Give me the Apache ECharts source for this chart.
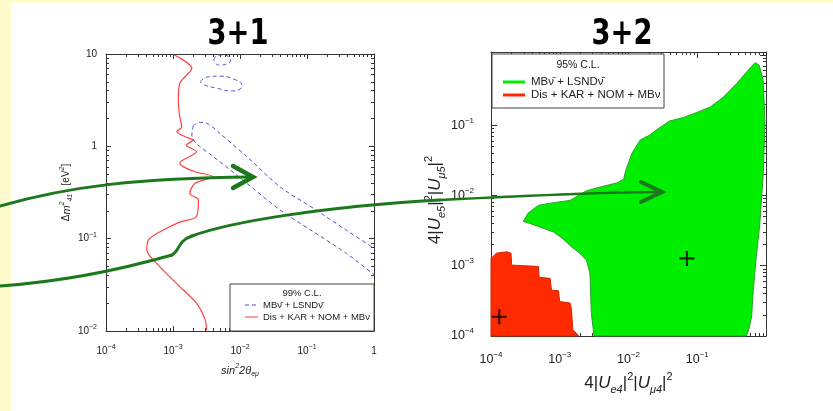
<!DOCTYPE html>
<html><head><meta charset="utf-8">
<script src="https://cdn.jsdelivr.net/npm/echarts@6/dist/echarts.min.js"></script>
<style>
html,body{margin:0;padding:0;background:#fefccf;width:833px;height:411px;overflow:hidden;}
#paper{position:absolute;left:11px;top:3px;width:822px;height:408px;background:#fff;}
#chart{position:absolute;left:0;top:0;width:833px;height:411px;}
</style></head><body><div id="paper"></div><div id="chart"></div>
<script>
// ================= DATA =================
// Left panel (3+1): x = sin^2 2theta_emu, y = dm^2_41 [eV^2]
const leftXTicks = [1e-4, 1e-3, 1e-2, 1e-1, 1];
const leftYTicks = [1e-2, 1e-1, 1, 10];
const leftXRange = [1e-4, 1];
const leftYRange = [1e-2, 10];

// Dis + KAR + NOM + MBnu (99% CL exclusion curve)
const redCurveX = [1.05e-3, 1.91e-3, 1.26e-3, 1.20e-3, 1.26e-3, 1.35e-3, 1.14e-3, 1.51e-3, 2.00e-3, 1.58e-3,
  2.24e-3, 1.26e-3, 1.41e-3, 2.14e-3, 3.98e-3, 2.14e-3, 1.78e-3, 2.40e-3, 2.24e-3, 1.26e-3,
  7.16e-4, 4.27e-4, 4.07e-4, 5.75e-4, 1.26e-3, 2.24e-3, 3.02e-3, 3.16e-3];
const redCurveY = [9.77, 7.00, 4.79, 3.16, 2.09, 1.62, 1.45, 1.27, 1.17, 1.03,
  0.871, 0.661, 0.603, 0.531, 0.468, 0.398, 0.309, 0.263, 0.174, 0.151,
  0.124, 0.0966, 0.0759, 0.0537, 0.0302, 0.0200, 0.0132, 0.0102];

// MBnubar + LSNDnubar (99% CL allowed islands)
const blueIsland1X = [4.07e-3, 4.47e-3, 5.62e-3, 6.92e-3, 7.24e-3, 6.31e-3, 5.01e-3, 4.27e-3, 4.07e-3];
const blueIsland1Y = [8.61, 9.55, 9.77, 9.20, 8.47, 7.80, 7.59, 7.94, 8.61];
const blueIsland2X = [2.57e-3, 3.16e-3, 5.01e-3, 7.94e-3, 1.07e-2, 1.00e-2, 7.59e-3, 4.47e-3, 2.82e-3, 2.57e-3];
const blueIsland2Y = [5.01, 5.62, 5.75, 5.37, 4.57, 4.17, 3.98, 4.27, 4.68, 5.01];
const blueBandX = [2.00e-3, 2.45e-3, 3.39e-3, 5.01e-3, 1.26e-2, 3.98e-2, 0.124, 0.389, 1.01, 1.55,
  1.55, 1.01, 0.389, 0.124, 3.98e-2, 1.26e-2, 3.98e-3, 2.24e-3, 1.91e-3, 2.00e-3];
const blueBandY = [1.66, 1.82, 1.74, 1.38, 0.776, 0.363, 0.214, 0.123, 0.0785, 0.0646,
  0.0331, 0.0407, 0.0692, 0.119, 0.204, 0.398, 0.776, 1.07, 1.32, 1.66];

// Right panel (3+2): x = 4|Ue4|^2|Umu4|^2, y = 4|Ue5|^2|Umu5|^2
const rightXTicks = [1e-4, 1e-3, 1e-2, 1e-1];
const rightYTicks = [1e-4, 1e-3, 1e-2, 1e-1];
const rightXRange = [1e-4, 1];
const rightYRange = [1e-4, 1.1];

// MBnubar + LSNDnubar (95% CL allowed region)
const greenRegionX = [3.16e-3, 2.88e-3, 2.75e-3, 2.45e-3, 1.95e-3, 1.48e-3, 1.12e-3, 8.13e-4, 5.13e-4, 3.72e-4,
  2.95e-4, 3.47e-4, 4.90e-4, 7.24e-4, 1.41e-3, 2.45e-3, 3.89e-3, 6.76e-3, 8.51e-3, 9.12e-3,
  1.12e-2, 1.48e-2, 2.04e-2, 2.69e-2, 3.98e-2, 6.31e-2, 9.77e-2, 0.155, 0.240, 0.372,
  0.525, 0.692, 0.794, 0.912, 0.966, 0.912, 0.813, 0.724, 0.653, 0.617, 0.550, 0.513];
const greenRegionY = [1.0e-4, 2.09e-4, 7.76e-4, 1.20e-3, 1.51e-3, 1.86e-3, 2.40e-3, 3.02e-3, 3.55e-3, 3.98e-3,
  4.27e-3, 5.62e-3, 7.24e-3, 7.76e-3, 8.51e-3, 1.17e-2, 1.32e-2, 1.51e-2, 1.70e-2, 2.29e-2,
  3.98e-2, 6.17e-2, 7.24e-2, 8.91e-2, 0.115, 0.129, 0.151, 0.182, 0.251, 0.389,
  0.575, 0.776, 0.716, 0.437, 0.107, 2.04e-2, 3.98e-3, 1.35e-3, 4.47e-4, 1.86e-4, 1.15e-4, 1.0e-4];

// Dis + KAR + NOM + MBnu (95% CL allowed region)
const redRegionX = [1.0e-4, 1.0e-4, 1.20e-4, 1.70e-4, 1.95e-4, 2.00e-4, 4.90e-4, 5.01e-4, 7.24e-4, 7.59e-4,
  9.55e-4, 1.00e-3, 1.41e-3, 1.48e-3, 1.55e-3, 1.86e-3, 1.86e-3];
const redRegionY = [1.0e-4, 1.27e-3, 1.51e-3, 1.58e-3, 1.51e-3, 1.02e-3, 9.77e-4, 6.84e-4, 6.61e-4, 4.47e-4,
  4.42e-4, 3.09e-4, 2.95e-4, 2.40e-4, 1.23e-4, 1.02e-4, 1.0e-4];

// best-fit points (green region, red region)
const bestFitX = [7.08e-2, 1.32e-4];
const bestFitY = [1.27e-3, 1.88e-4];

// ================= HELPERS =================
const FONT = '"Liberation Sans", Arial, sans-serif';
const TXT = '#222';
const RED_LINE = '#ff4040';
const lg = v => Math.log10(v);
const pairs = (xs, ys) => xs.map((x, i) => [lg(x), lg(ys[i])]);

function majorVals(lo, hi) { const o = []; for (let n = Math.ceil(lo - 1e-9); n <= hi + 1e-9; n++) o.push(n); return o; }
function minorVals(lo, hi) {
  const o = [];
  for (let n = Math.floor(lo); n <= Math.ceil(hi); n++)
    for (let k = 2; k <= 9; k++) { const v = n + Math.log10(k); if (v > lo + 1e-9 && v < hi - 1e-9) o.push(v); }
  return o;
}
function expLabel(v) {
  const n = Math.round(v);
  if (n === 0) return '{b|1}';
  if (n === 1) return '{b|10}';
  return '{b|10}{e|\u2212' + (-n) + '}';
}
function labelRich(bs, es) {
  return {
    b: { fontSize: bs, fontFamily: FONT, color: TXT, lineHeight: bs + 5 },
    e: { fontSize: es, fontFamily: FONT, color: TXT, lineHeight: es + 1, verticalAlign: 'top' }
  };
}
function axisSet(dim, gridIndex, range, tickVals, labelCfg, nameCfg, majLen, minLen) {
  const lo = lg(range[0]), hi = lg(range[1]);
  const pos = dim === 'x' ? ['bottom', 'top'] : ['left', 'right'];
  const base = { type: 'value', gridIndex, min: lo, max: hi, interval: 1, splitLine: { show: false }, axisPointer: { show: false } };
  const line = { show: true, onZero: false, lineStyle: { color: '#333', width: 1 } };
  const noLine = { show: false, onZero: false };
  const tick = (vals, len) => ({ show: true, inside: true, length: len, customValues: vals, lineStyle: { color: '#333', width: 1 } });
  const majors = majorVals(lo, hi), minors = minorVals(lo, hi);
  const lab = Object.assign({ show: true, customValues: tickVals.map(lg), formatter: expLabel }, labelCfg);
  return [
    Object.assign({}, base, { position: pos[0], axisLine: line, axisTick: tick(majors, majLen), axisLabel: lab }, nameCfg),
    Object.assign({}, base, { position: pos[0], axisLine: noLine, axisTick: tick(minors, minLen), axisLabel: { show: false } }),
    Object.assign({}, base, { position: pos[1], axisLine: line, axisTick: tick(majors, majLen), axisLabel: { show: false } }),
    Object.assign({}, base, { position: pos[1], axisLine: noLine, axisTick: tick(minors, minLen), axisLabel: { show: false } })
  ];
}
function polyRenderer(pts, fill, stroke) {
  return function (params, api) {
    if (params.dataIndex !== 0) return null;
    return { type: 'polygon', shape: { points: pts.map(p => api.coord(p)) }, style: { fill: fill, stroke: stroke, lineWidth: 1 } };
  };
}

const nameRichSmall = {
  r: { fontSize: 10, fontFamily: FONT, color: TXT, lineHeight: 14 },
  i: { fontSize: 11, fontFamily: FONT, color: TXT, fontStyle: 'italic', lineHeight: 15 },
  p: { fontSize: 7, fontFamily: FONT, color: TXT, fontStyle: 'italic', lineHeight: 7, verticalAlign: 'top' },
  s: { fontSize: 7, fontFamily: FONT, color: TXT, fontStyle: 'italic', lineHeight: 7, verticalAlign: 'bottom' }
};
const nameRichBig = {
  r: { fontSize: 17, fontFamily: FONT, color: TXT, lineHeight: 24 },
  i: { fontSize: 17, fontFamily: FONT, color: TXT, fontStyle: 'italic', lineHeight: 24 },
  p: { fontSize: 11, fontFamily: FONT, color: TXT, lineHeight: 11, verticalAlign: 'top' },
  s: { fontSize: 11, fontFamily: FONT, color: TXT, fontStyle: 'italic', lineHeight: 11, verticalAlign: 'bottom' }
};

const xAxes = [].concat(
  axisSet('x', 0, leftXRange, leftXTicks, { margin: 13, rich: labelRich(10, 7) },
    { name: '{i|sin}{p|2}{i|2\u03b8}{s|e\u03bc}', nameLocation: 'middle', nameGap: 32, nameTextStyle: { rich: nameRichSmall } }, 5, 3),
  axisSet('x', 1, rightXRange, rightXTicks, { margin: 15, rich: labelRich(12.5, 8) },
    { name: '{r|4|}{i|U}{s|e4}{r||}{p|2}{r||}{i|U}{s|\u03bc4}{r||}{p|2}', nameLocation: 'middle', nameGap: 35, nameTextStyle: { rich: nameRichBig } }, 6, 3)
);
const yAxes = [].concat(
  axisSet('y', 0, leftYRange, leftYTicks, { margin: 9, rich: labelRich(10, 7) },
    { name: '{r|\u0394}{i|m}{p|2}{s|41}{r|   [eV}{p|2}{r|]}', nameLocation: 'middle', nameGap: 32, nameTextStyle: { rich: nameRichSmall } }, 5, 3),
  axisSet('y', 1, rightYRange, rightYTicks, { margin: 17, rich: labelRich(12.5, 8) },
    { name: '{r|4|}{i|U}{s|e5}{r||}{p|2}{r||}{i|U}{s|\u03bc5}{r||}{p|2}', nameLocation: 'middle', nameGap: 40, nameTextStyle: { rich: nameRichBig, padding: [0, 12, 0, 0] } }, 6, 3)
);

const blueStyle = { color: '#4f4fcf', width: 1, type: [4, 3] };
const NU_BAR = '\u03bd\u0304';
const nameBlue = 'MB' + NU_BAR + ' + LSND' + NU_BAR;
const nameRed = 'Dis + KAR + NOM + MB\u03bd';

const greenPts = pairs(greenRegionX, greenRegionY);
const redPts = pairs(redRegionX, redRegionY);

const series = [
  { type: 'line', name: nameRed, color: RED_LINE, xAxisIndex: 0, yAxisIndex: 0, data: pairs(redCurveX, redCurveY), smooth: 0.3, symbol: 'none', itemStyle: { color: RED_LINE }, lineStyle: { color: RED_LINE, width: 1.2, type: 'solid' }, z: 3, silent: true },
  { type: 'line', name: nameBlue, color: '#4f4fcf', xAxisIndex: 0, yAxisIndex: 0, data: pairs(blueIsland1X, blueIsland1Y), smooth: 0.5, symbol: 'none', lineStyle: blueStyle, z: 3, silent: true },
  { type: 'line', name: nameBlue, color: '#4f4fcf', xAxisIndex: 0, yAxisIndex: 0, data: pairs(blueIsland2X, blueIsland2Y), smooth: 0.5, symbol: 'none', lineStyle: blueStyle, z: 3, silent: true },
  { type: 'line', name: nameBlue, color: '#4f4fcf', xAxisIndex: 0, yAxisIndex: 0, data: pairs(blueBandX, blueBandY), smooth: 0.3, symbol: 'none', lineStyle: blueStyle, z: 3, silent: true },
  { type: 'custom', name: nameBlue, xAxisIndex: 4, yAxisIndex: 4, data: greenPts, encode: { x: 0, y: 1 }, renderItem: polyRenderer(greenPts, '#00ee00', '#2f9f2f'), z: 2, silent: true },
  { type: 'custom', name: nameRed, xAxisIndex: 4, yAxisIndex: 4, data: redPts, encode: { x: 0, y: 1 }, renderItem: polyRenderer(redPts, '#ff2a00', '#d42400'), z: 2, silent: true },
  { type: 'scatter', name: 'best fit', xAxisIndex: 4, yAxisIndex: 4, data: pairs(bestFitX, bestFitY), symbol: 'path://M6,0H8V6H14V8H8V14H6V8H0V6H6Z', symbolSize: 15, itemStyle: { color: '#000' }, z: 5, silent: true }
];

// ================= GRAPHIC (titles, legends, arrows) =================
const ARROW = '#1b781b';
function legendBox(x, y, w, h, title, titleSize, rows, textSize, lineX1, lineX2, textX) {
  const els = [
    { type: 'rect', shape: { x: x, y: y, width: w, height: h }, style: { fill: '#fff', stroke: '#444', lineWidth: 1 }, z: 100 },
    { type: 'text', x: x + w / 2, y: rows.titleY, style: { text: title, fontSize: titleSize, fontFamily: FONT, fill: TXT, align: 'center', verticalAlign: 'middle', textAlign: 'center', textVerticalAlign: 'middle' }, z: 101 }
  ];
  rows.items.forEach(r => {
    els.push({ type: 'line', shape: { x1: lineX1, y1: r.y, x2: lineX2, y2: r.y }, style: { stroke: r.color, lineWidth: r.width, lineDash: r.dash || null }, z: 101 });
    els.push({ type: 'text', x: textX, y: r.y, style: { text: r.text, fontSize: textSize, fontFamily: FONT, fill: TXT, align: 'left', verticalAlign: 'middle', textAlign: 'left', textVerticalAlign: 'middle' }, z: 101 });
  });
  return els;
}
const titleText = (t, x) => ({ type: 'text', x: x, y: 35, scaleX: 0.76, style: { text: t, fontSize: 36, fontWeight: 'bold', fontFamily: '"DejaVu Sans", sans-serif', fill: '#000', align: 'center', verticalAlign: 'middle', textAlign: 'center', textVerticalAlign: 'middle' }, z: 50 });
const bez = (x1, y1, c1x, c1y, c2x, c2y, x2, y2, w) => ({ type: 'bezierCurve', shape: { x1: x1, y1: y1, cpx1: c1x, cpy1: c1y, cpx2: c2x, cpy2: c2y, x2: x2, y2: y2 }, style: { stroke: ARROW, lineWidth: w, fill: null, lineCap: 'round' }, z: 200 });
const head = (pts, w) => ({ type: 'polyline', shape: { points: pts }, style: { stroke: ARROW, lineWidth: w, fill: null, lineCap: 'round', lineJoin: 'miter' }, z: 200 });

const graphic = [].concat(
  [titleText('3+1', 238), titleText('3+2', 622)],
  legendBox(230, 284, 144, 47, '99% C.L.', 9.5,
    { titleY: 293, items: [
      { y: 305, color: '#4f4fcf', width: 1, dash: [4, 3], text: nameBlue },
      { y: 317, color: RED_LINE, width: 1, text: nameRed }] }, 9.5, 245, 258, 263),
  legendBox(492, 54, 172, 54, '95% C.L.', 10.5,
    { titleY: 65, items: [
      { y: 82, color: '#00ee00', width: 3, text: nameBlue },
      { y: 95, color: '#ff2a00', width: 3, text: nameRed }] }, 11.5, 503, 525, 531),
  [
    bez(0, 206, 70, 186, 140, 178, 251, 177, 3),
    head([[233, 166], [253, 177], [233, 188]], 4.5),
    bez(0, 286, 70, 281, 130, 267, 172, 255, 3),
    bez(172, 255, 180, 251, 177, 241, 192, 236, 3),
    bez(192, 236, 230, 222, 320, 207, 440, 200, 3),
    bez(440, 200, 520, 196, 600, 192, 660, 192, 2.5),
    head([[641, 182], [662, 192], [641, 202]], 4)
  ]
);

const chart = echarts.init(document.getElementById('chart'), null, { renderer: 'canvas' });
chart.setOption({
  backgroundColor: 'transparent',
  animation: false,
  textStyle: { fontFamily: FONT },
  grid: [
    { left: 106, top: 54, width: 268, height: 277 },
    { left: 491, top: 52, width: 275, height: 284 }
  ],
  xAxis: xAxes,
  yAxis: yAxes,
  series: series,
  graphic: graphic
});
</script></body></html>
